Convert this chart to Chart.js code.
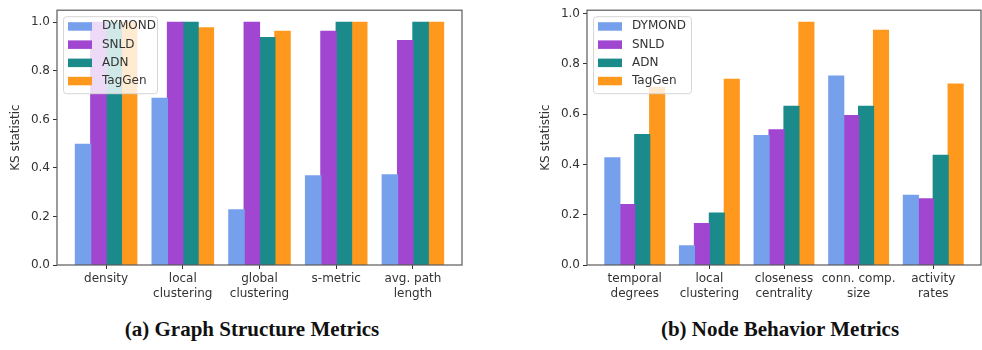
<!DOCTYPE html>
<html>
<head>
<meta charset="utf-8">
<script src="https://cdn.jsdelivr.net/npm/chart.js@4"></script>
<style>
  body { margin: 0; background: #fff; width: 982px; height: 350px; position: relative; overflow: hidden; }
  .box { position: absolute; top: 0; }
  .cap { position: absolute; top: 317px; font-family: "Liberation Serif", "DejaVu Serif", serif; font-weight: bold; font-size: 21px; color: #111; white-space: nowrap; transform: translateX(-50%); }
</style>
</head>
<body>
<div class="box" style="left:0;width:470px;height:310px"><canvas id="structChart" width="470" height="310"></canvas></div>
<div class="box" style="left:510px;width:472px;height:310px"><canvas id="behaviorChart" width="472" height="310"></canvas></div>
<div class="cap" style="left:252px">(a) Graph Structure Metrics</div>
<div class="cap" style="left:780px">(b) Node Behavior Metrics</div>
<script>
const models = ["DYMOND", "SNLD", "ADN", "TagGen"];
const colors = ["#76a0eb", "#a046d1", "#1a8a8a", "#ff991d"];

const structLabels = [["density"], ["local", "clustering"], ["global", "clustering"], ["s-metric"], ["avg. path", "length"]];
const structDymond = [0.497, 0.687, 0.227, 0.367, 0.371];
const structSnld = [1.0, 1.0, 1.0, 0.963, 0.925];
const structAdn = [1.0, 1.0, 0.937, 1.0, 1.0];
const structTaggen = [1.0, 0.977, 0.963, 1.0, 1.0];

const behaviorLabels = [["temporal", "degrees"], ["local", "clustering"], ["closeness", "centrality"], ["conn. comp.", "size"], ["activity", "rates"]];
const behaviorDymond = [0.426, 0.076, 0.514, 0.751, 0.277];
const behaviorSnld = [0.240, 0.165, 0.537, 0.594, 0.263];
const behaviorAdn = [0.518, 0.206, 0.631, 0.631, 0.436];
const behaviorTaggen = [0.705, 0.738, 0.965, 0.933, 0.719];

const yTicks = [0, 0.2, 0.4, 0.6, 0.8, 1.0];
const tickFont = { family: "DejaVu Sans", size: 12, lineHeight: 1.2 };

const frameAndLegend = {
  id: "frameAndLegend",
  afterDatasetsDraw(chart) {
    const { ctx, chartArea: a } = chart;
    ctx.save();
    // legend box
    const lx = a.left + 6, ly = a.top + 6, lw = chart.options.legendWidth, lh = 77;
    ctx.fillStyle = "rgba(255,255,255,0.8)";
    ctx.strokeStyle = "#d6d6d6";
    ctx.lineWidth = 1;
    ctx.beginPath();
    ctx.roundRect(lx + 0.5, ly + 0.5, lw, lh, 3);
    ctx.fill();
    ctx.stroke();
    ctx.font = "12px 'DejaVu Sans'";
    ctx.textBaseline = "middle";
    chart.data.datasets.forEach((ds, i) => {
      const y = ly + 10 + i * 18.2;
      ctx.fillStyle = ds.backgroundColor;
      ctx.fillRect(lx + 5, y - 4, 24, 8.5);
      ctx.fillStyle = "#333";
      ctx.fillText(ds.label, lx + 39, y);
    });
    // frame
    ctx.strokeStyle = "#5a5a5a";
    ctx.lineWidth = 1.2;
    ctx.strokeRect(a.left, a.top, a.right - a.left, a.bottom - a.top);
    ctx.restore();
  }
};

function makeChart(id, labels, series, yMax, padLeft, padRight, legendWidth) {
  new Chart(document.getElementById(id), {
    type: "bar",
    data: {
      datasets: series.map((vals, i) => ({
        label: models[i],
        data: vals.map((v, k) => ({ x: k, y: v })),
        backgroundColor: colors[i],
        borderWidth: 0,
        inflateAmount: 0.6,
        categoryPercentage: 0.8,
        barPercentage: 1.0
      }))
    },
    options: {
      responsive: false,
      animation: false,
      legendWidth,
      layout: { padding: { left: padLeft, top: 3, right: padRight, bottom: 0 } },
      plugins: { legend: { display: false }, tooltip: { enabled: false } },
      scales: {
        x: {
          type: "linear",
          offset: false,
          min: -0.64,
          max: 4.64,
          afterBuildTicks: (s) => { s.ticks = labels.map((_, k) => ({ value: k })); },
          afterFit: (s) => { s.height = 45; },
          ticks: {
            callback: (v) => labels[v],
            color: "#333",
            font: tickFont,
            padding: 3,
            maxRotation: 0,
            autoSkip: false
          },
          grid: { offset: false, drawOnChartArea: false, tickLength: 4, color: "#333" },
          border: { display: false }
        },
        y: {
          min: 0,
          max: yMax,
          afterBuildTicks: (s) => { s.ticks = yTicks.map((v) => ({ value: v })); },
          afterFit: (s) => { s.width = 48; },
          ticks: {
            callback: (v) => v.toFixed(1),
            color: "#333",
            font: tickFont,
            padding: 3
          },
          grid: { drawOnChartArea: false, tickLength: 4, color: "#333" },
          border: { display: false },
          title: { display: true, text: "KS statistic", color: "#333", font: tickFont, padding: 0 }
        }
      }
    },
    plugins: [frameAndLegend]
  });
}

makeChart("structChart", structLabels, [structDymond, structSnld, structAdn, structTaggen], 1.05, 9, 8, 94);
makeChart("behaviorChart", behaviorLabels, [behaviorDymond, behaviorSnld, behaviorAdn, behaviorTaggen], 1.013, 29, 1, 98);
</script>
</body>
</html>
